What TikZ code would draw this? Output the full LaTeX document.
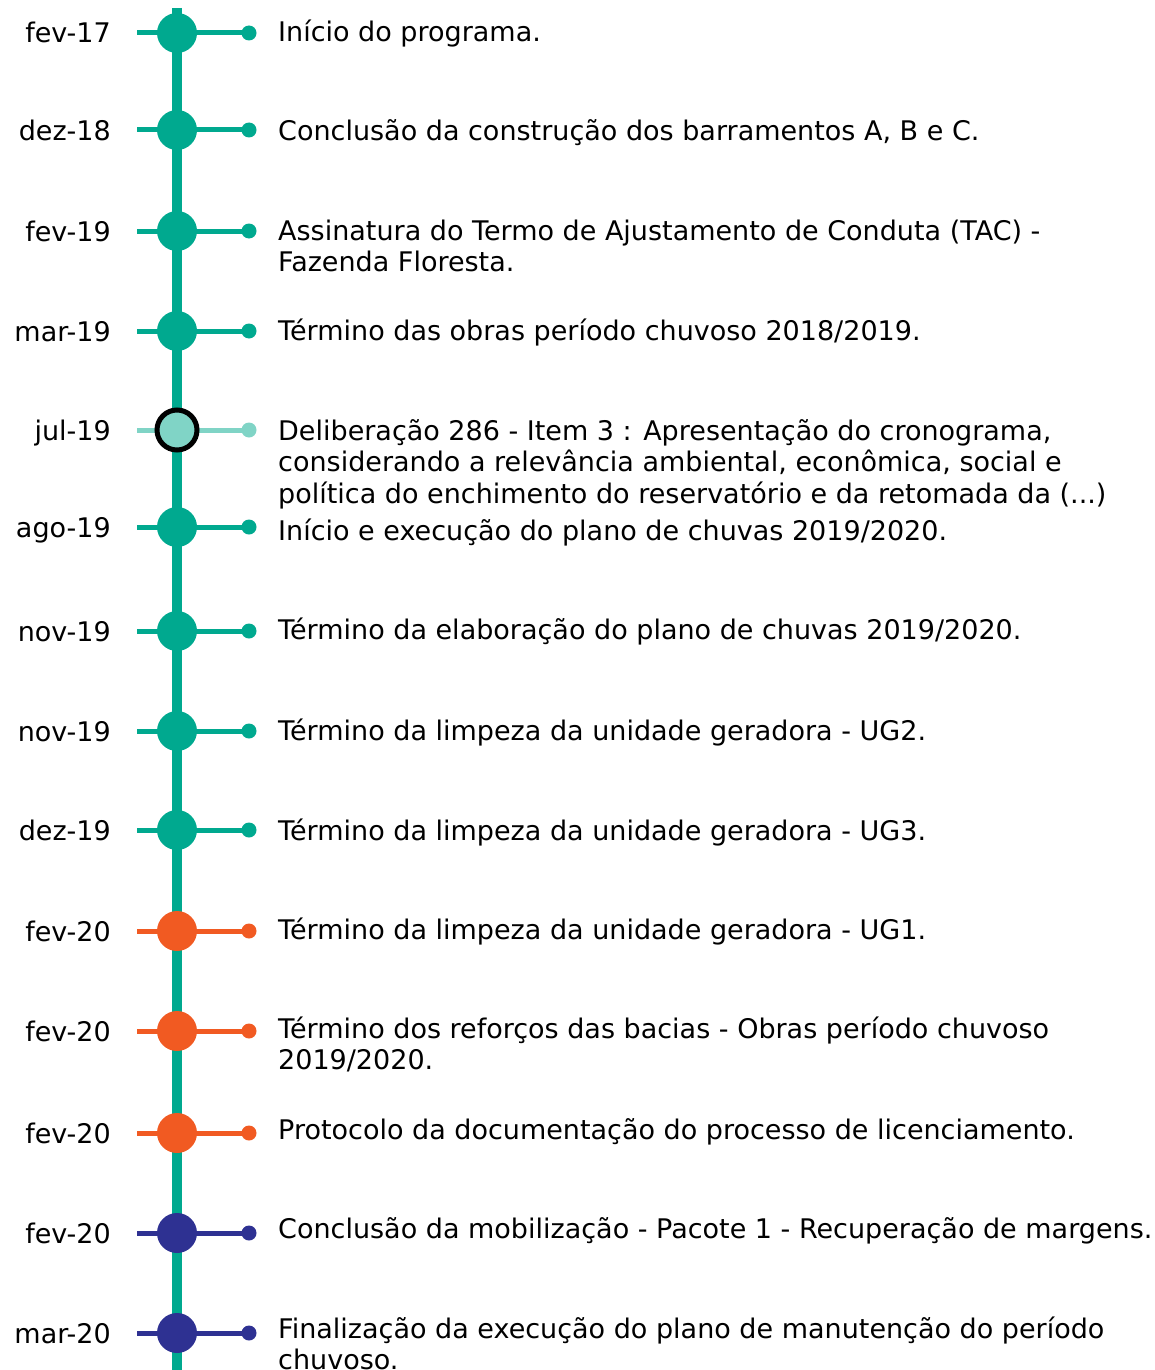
\documentclass[tikz,border=0pt]{standalone}
\usepackage{fontspec}
\setmainfont{DejaVu Sans}
\definecolor{teal1}{HTML}{00A98F}
\definecolor{tealL}{HTML}{80D4C6}
\definecolor{orng}{HTML}{F15A22}
\definecolor{navy}{HTML}{2E3192}
\tikzset{
  big/.style={circle,fill=#1,minimum size=40pt,inner sep=0pt},
  dotx/.style={circle,fill=#1,minimum size=15pt,inner sep=0pt},
  hline/.style={draw=#1,line width=5pt},
  date/.style={anchor=base east,inner sep=0pt,font=\fontsize{27}{31.5}\selectfont},
  desc/.style={anchor=base west,inner sep=0pt,align=left,font=\fontsize{27}{31.5}\selectfont},
}
\begin{document}
\begin{tikzpicture}[x=1pt,y=-1pt]
\useasboundingbox (0,0) rectangle (1154,1370);
\coordinate (top) at (177,8);
\coordinate (bot) at (177,1372);
\draw[teal1,line width=10pt] (top) -- (bot);
% rows
\foreach \n/\y/\c in {1/33/teal1,2/130/teal1,3/231/teal1,4/331/teal1,5/430/tealL,6/527/teal1,7/631/teal1,8/731/teal1,9/830/teal1,10/931/orng,11/1031/orng,12/1133/orng,13/1233/navy,14/1333/navy}{
  \coordinate (l\n) at (137,\y);
  \node[dotx=\c] (d\n) at (249,\y) {};
  \draw[hline=\c] (l\n) -- (d\n.center);
  \node[big=\c] (c\n) at (177,\y) {};
}
\node[circle,fill=tealL,draw=black,line width=5pt,minimum size=40pt,inner sep=0pt] (c5b) at (177,430) {};
% dates
\node[date] (t1) at (111,43) {fev-17};
\node[date] (t2) at (111,140) {dez-18};
\node[date] (t3) at (111,241) {fev-19};
\node[date] (t4) at (111,341) {mar-19};
\node[date] (t5) at (111,440) {jul-19};
\node[date] (t6) at (111,537) {ago-19};
\node[date] (t7) at (111,641) {nov-19};
\node[date] (t8) at (111,741) {nov-19};
\node[date] (t9) at (111,840) {dez-19};
\node[date] (t10) at (111,941) {fev-20};
\node[date] (t11) at (111,1041) {fev-20};
\node[date] (t12) at (111,1143) {fev-20};
\node[date] (t13) at (111,1243) {fev-20};
\node[date] (t14) at (111,1343) {mar-20};
% descriptions (base = baseline of last line)
\node[desc] (e1) at (278,42) {Início do programa.};
\node[desc] (e2) at (278,141) {Conclusão da construção dos barramentos A, B e C.};
\node[desc] (e3) at (278,271.5) {Assinatura do Termo de Ajustamento de Conduta (TAC) -\\Fazenda Floresta.};
\node[desc] (e4) at (278,340) {Término das obras período chuvoso 2018/2019.};
\node[desc] (e5) at (278,503) {Deliberação 286 - Item 3 : Apresentação do cronograma,\\considerando a relevância ambiental, econômica, social e\\política do enchimento do reservatório e da retomada da (...)};
\node[desc] (e6) at (278,540) {Início e execução do plano de chuvas 2019/2020.};
\node[desc] (e7) at (278,639) {Término da elaboração do plano de chuvas 2019/2020.};
\node[desc] (e8) at (278,740) {Término da limpeza da unidade geradora - UG2.};
\node[desc] (e9) at (278,840) {Término da limpeza da unidade geradora - UG3.};
\node[desc] (e10) at (278,939) {Término da limpeza da unidade geradora - UG1.};
\node[desc] (e11) at (278,1069.5) {Término dos reforços das bacias - Obras período chuvoso\\2019/2020.};
\node[desc] (e12) at (278,1139) {Protocolo da documentação do processo de licenciamento.};
\node[desc] (e13) at (278,1238) {Conclusão da mobilização - Pacote 1 - Recuperação de margens.};
\node[desc] (e14) at (278,1369.5) {Finalização da execução do plano de manutenção do período\\chuvoso.};
\end{tikzpicture}
\end{document}
